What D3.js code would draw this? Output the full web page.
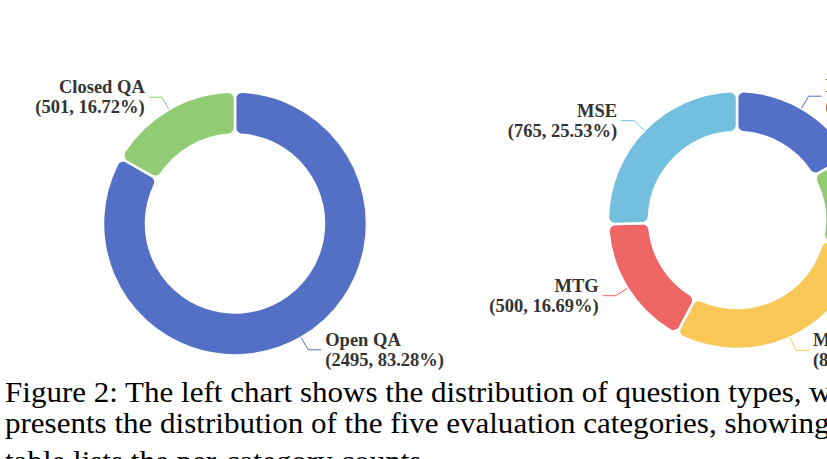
<!DOCTYPE html>
<html>
<head>
<meta charset="utf-8">
<script src="https://cdn.jsdelivr.net/npm/d3@7"></script>
<style>
  html, body { margin: 0; padding: 0; background: #fff; overflow: hidden; }
  svg { display: block; }
</style>
</head>
<body>
<svg id="canvas" width="827" height="459"></svg>
<script>
// question types (left chart)
const typeNames = ['Open QA', 'Closed QA'];
const typeCounts = [2495, 501];

// evaluation categories (right chart), clockwise from top
const catNames = ['MTU', 'MIR', 'MCA', 'MTG', 'MSE'];
const catCounts = [500, 360, 871, 500, 765];

const palette = ['#5470c6', '#91cc75', '#fac858', '#ee6666', '#73c0de'];

const captionLines = [
    'Figure 2: The left chart shows the distribution of question types, while the right chart',
    'presents the distribution of the five evaluation categories, showing balanced coverage. The',
    'table lists the per-category counts.'
];

const serif = '"Liberation Serif", "Times New Roman", Times, serif';
const svg = d3.select('#canvas');

let drawDonut = (names, counts, cx, cy, outer, inner) => {
    let total = d3.sum(counts);
    let items = names.map((n, i) => ({ name: n, value: counts[i], color: palette[i] }));

    let pie = d3.pie().value(d => d.value).sort(null);
    let arcs = pie(items);

    let arc = d3.arc()
        .innerRadius(inner)
        .outerRadius(outer)
        .cornerRadius(7);

    let g = svg.append('g').attr('transform', 'translate(' + cx + ',' + cy + ')');

    g.selectAll('path.slice')
        .data(arcs)
        .enter()
        .append('path')
        .attr('class', 'slice')
        .attr('d', arc)
        .attr('fill', d => d.data.color)
        .attr('stroke', '#fff')
        .attr('stroke-width', 2.5);

    // leader lines + labels
    let len1 = 14, len2 = 13;
    arcs.forEach(d => {
        let mid = (d.startAngle + d.endAngle) / 2;
        let sx = Math.sin(mid), sy = -Math.cos(mid);
        let p0 = [sx * outer, sy * outer];
        let p1 = [sx * (outer + len1), sy * (outer + len1)];
        let right = sx >= 0;
        let p2 = [p1[0] + (right ? len2 : -len2), p1[1]];

        g.append('polyline')
            .attr('points', [p0, p1, p2].map(p => p.join(',')).join(' '))
            .attr('fill', 'none')
            .attr('stroke', d.data.color)
            .attr('stroke-width', 1);

        let pct = (d.value / total * 100).toFixed(2);
        let tx = p2[0] + (right ? 4 : -4);
        let t = g.append('text')
            .attr('x', tx)
            .attr('y', p2[1] - 4)
            .attr('text-anchor', right ? 'start' : 'end')
            .attr('font-family', serif)
            .attr('font-weight', 'bold')
            .attr('font-size', 18.5)
            .attr('fill', '#333');
        t.append('tspan').text(d.data.name);
        t.append('tspan')
            .attr('x', tx)
            .attr('dy', 20)
            .text('(' + d.value + ', ' + pct + '%)');
    });
};

drawDonut(typeNames, typeCounts, 235, 223.5, 132, 89);
drawDonut(catNames, catCounts, 737, 220, 129, 88);

// caption, horizontally condensed like the scanned figure
let cap = svg.append('g').attr('transform', 'translate(5,0)');
let probe = cap.append('text')
    .attr('font-family', serif)
    .attr('font-size', 29.5)
    .text('Figure 2: The left chart shows the distribution of question types,');
let natural = probe.node().getComputedTextLength();
probe.remove();
let squeeze = 797 / natural;

let captionY = [402, 433, 471];
captionLines.forEach((line, i) => {
    cap.append('text')
        .attr('transform', 'translate(0,' + captionY[i] + ') scale(' + squeeze + ',1)')
        .attr('font-family', serif)
        .attr('font-size', 29.5)
        .attr('fill', '#000')
        .text(line);
});
</script>
</body>
</html>
